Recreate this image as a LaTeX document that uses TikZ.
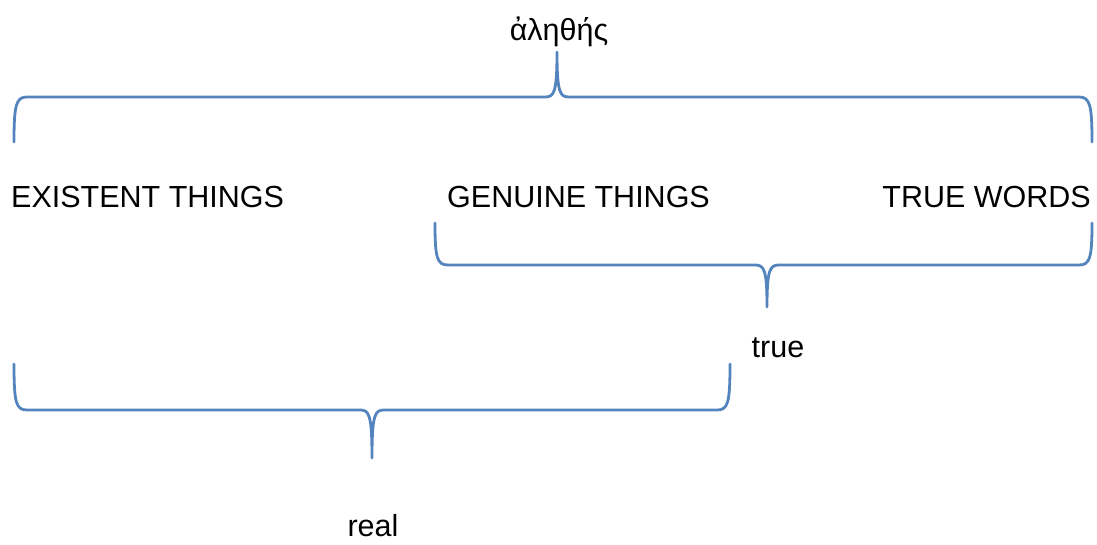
\documentclass[tikz,border=0pt]{standalone}
\usepackage{fontspec}
\setmainfont{Liberation Sans}
\definecolor{braceblue}{RGB}{84,132,189}
\begin{document}
\begin{tikzpicture}[x=1pt,y=-1pt,
  brace/.style={draw=braceblue,line width=2.8pt,line join=round,line cap=round},
  lbl/.style={inner sep=0pt,anchor=base,font=\fontsize{30.5}{36}\selectfont}]
\useasboundingbox (0,0) rectangle (1097,544);
% labels
\node[lbl] (greek) at (559,40) {ἀληθής};
\node[lbl,anchor=base west] (exist) at (11,207) {EXISTENT THINGS};
\node[lbl,anchor=base west] (genuine) at (447,207) {GENUINE THINGS};
\node[lbl,anchor=base east] (truewords) at (1091,207) {TRUE WORDS};
\node[lbl] (true) at (778,357) {true};
\node[lbl] (real) at (373,536) {real};
% top brace
\path[brace] (14,142) .. controls (14,105) and (16,97) .. (27,97) -- (545,97)
  .. controls (554,97) and (557,93) .. (557,52)
  .. controls (557,93) and (560,97) .. (569,97) -- (1079,97)
  .. controls (1090,97) and (1092,105) .. (1092,142);
% middle brace
\path[brace] (435,223) .. controls (435,258) and (437,265) .. (448,265) -- (755,265)
  .. controls (764,265) and (767,269) .. (767,307)
  .. controls (767,269) and (770,265) .. (779,265) -- (1079,265)
  .. controls (1090,265) and (1092,258) .. (1092,223);
% bottom brace
\path[brace] (14,364) .. controls (14,403) and (16,410) .. (27,410) -- (360,410)
  .. controls (369,410) and (372,414) .. (372,458)
  .. controls (372,414) and (375,410) .. (384,410) -- (717,410)
  .. controls (728,410) and (730,403) .. (730,364);
\end{tikzpicture}
\end{document}
